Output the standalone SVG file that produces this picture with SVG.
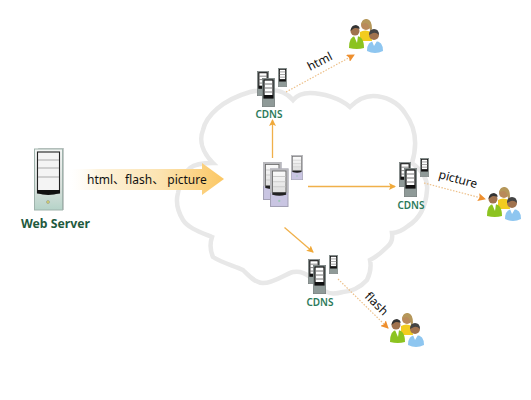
<svg xmlns="http://www.w3.org/2000/svg" width="531" height="400" viewBox="0 0 531 400">
<style>
text{font-family:"Noto Sans","Noto Sans CJK SC",sans-serif}
.lbl{font-size:12px;fill:#111}
.cd{font-size:10px;fill:#2c7a5a;text-anchor:middle;font-weight:600}
.solid{fill:none;stroke:#f0b04a;stroke-width:1.3;marker-end:url(#ah)}
.dot{fill:none;stroke:#edc08a;stroke-width:1.2;stroke-dasharray:1.5 1.5;marker-end:url(#ah2)}
</style>
<defs>
<marker id="ah" markerWidth="8" markerHeight="8" refX="6" refY="3.5" orient="auto" markerUnits="userSpaceOnUse"><path d="M0 0L7 3.5L0 7L1.5 3.5Z" fill="#f0a93a"/></marker>
<marker id="ah2" markerWidth="9" markerHeight="8" refX="7" refY="4" orient="auto" markerUnits="userSpaceOnUse"><path d="M0 0L8 4L0 8L1.5 4Z" fill="#ee8f2e"/></marker>
<linearGradient id="ag" x1="0" x2="1" y1="0" y2="0"><stop offset="0" stop-color="#fff" stop-opacity="0"/><stop offset=".2" stop-color="#fdf3dd"/><stop offset=".6" stop-color="#fce3b0"/><stop offset="1" stop-color="#fbc764"/></linearGradient>
<linearGradient id="sv" x1="0" x2="0" y1="0" y2="1"><stop offset="0" stop-color="#f4f6f5"/><stop offset=".65" stop-color="#d8e0dc"/><stop offset="1" stop-color="#b5d3c8"/></linearGradient>
<linearGradient id="scr" x1="0" x2="0" y1="0" y2="1"><stop offset="0" stop-color="#fbfbfb"/><stop offset="1" stop-color="#dcdcdc"/></linearGradient>
<symbol id="gs" viewBox="0 0 13 29" preserveAspectRatio="none" overflow="visible">
<rect x=".4" y=".4" width="12.2" height="28.2" fill="#8f9a98" stroke="#777f7e" stroke-width=".8"/>
<rect x="2" y="2" width="9" height="18" fill="#fff" stroke="#111" stroke-width="1.2"/>
<path d="M2 6H11M2 10H11M2 14H11" stroke="#777" stroke-width="1"/>
<path d="M2 17H11V20H2Z" fill="#111"/>
</symbol>
<symbol id="ps" viewBox="0 0 18 38" preserveAspectRatio="none" overflow="visible">
<rect x=".5" y=".5" width="17" height="37" fill="#c9c5e2" stroke="#a3a1b5"/>
<rect x="0" y="0" width="18" height="24" fill="#b9b9bd"/>
<rect x="2.500" y="2.500" width="13" height="23" fill="url(#scr)" stroke="#666" stroke-width=".8"/>
<path d="M3 8H15M3 13H15M3 18H15" stroke="#ccc"/>
<path d="M2.500 23.500H15.500V26Q9 28 2.500 26Z" fill="#222"/>
<circle cx="9" cy="32" r="1.100" fill="#9cc9b8"/>
</symbol>
<symbol id="pp" viewBox="0 0 34 35" width="34" height="35" overflow="visible">
<path d="M11 14Q16 11 22 14L23 23H11Z" fill="#f2cc1f"/>
<circle cx="17" cy="7" r="5" fill="#b98a5a"/><path d="M12 7Q13 0 18 1Q23 2 23 11L21 14Q21 7 17 5Q14 5 12 7Z" fill="#b5975a"/>
<path d="M0 30Q0 18 7 18Q15 18 15 30Q8 32 0 30Z" fill="#8cc320"/><path d="M5 18L8 25L9 18Z" fill="#fff"/>
<circle cx="6" cy="13" r="4.500" fill="#a0724e"/><path d="M1.500 13Q2 7 7 7Q11 8 10.500 11Q6 9 4 11Z" fill="#333"/>
<path d="M18 33Q18 23 26 23Q34 23 34 33Q26 37 18 33Z" fill="#8ec6f0"/><path d="M23 23L25 28L28 23Z" fill="#fff"/>
<circle cx="25" cy="17" r="5" fill="#a0724e"/><path d="M20 17Q20 11 25 11Q30 11 30 17Q27 14 24 15Z" fill="#444"/>
</symbol>
</defs>
<rect width="531" height="400" fill="#fff"/>
<g id="cloud"><path d="M213 163C202 152 199 140 203 130C206 116 222 100 250 92C258 90 264 90 270 90C280 90 288 94 293 100C298 94 304 93 310 93C322 93 340 98 350 107C358 99 366 96 373 96C385 96 398 102 405 113C414 125 419 140 412 163C424 172 428 182 427 190C426 205 421 218 408 226C403 230 397 233 392 233C393 240 391 244 387 247C382 252 376 257 370 260C372 270 369 276 367 280C360 288 350 292 343 292C335 294 330 294 327 292C317 290 314 281 310 277C304 272 298 271 293 272C285 274 274 283 263 283C255 283 248 275 243 270C235 266 222 263 213 257C210 250 210 243 212 237C200 232 188 228 183 220C177 210 176 200 178 193C180 180 185 172 190 168C195 164 205 163 213 163Z" fill="#fff" stroke="#e8e8e8" stroke-width="4.500"/></g>
<g id="connectors">
<path class="solid" d="M272.500 158V120"/>
<path class="solid" d="M308 186.500H395"/>
<path class="solid" d="M284.500 227.500L313 252"/>
<path class="dot" d="M286 92L354 55"/>
<path class="dot" d="M424 183L485 199"/>
<path class="dot" d="M338 279L388 328"/>
</g>
<g id="arrow"><path d="M66 169H202V163L224 179L202 195V190H66Z" fill="url(#ag)"/>
<text class="lbl" x="87" y="184">html、flash、 picture</text></g>
<g id="web-server">
<path d="M38 148H64V210H60Z" fill="#c4c9c8"/>
<rect x="34.500" y="149" width="28" height="61" fill="url(#sv)" stroke="#9fb3ac"/>
<rect x="37.500" y="152" width="22" height="41" fill="#f4f4f4" stroke="#222" stroke-width="1.100"/>
<path d="M38 160H59M38 168H59M38 177H59" stroke="#aaa"/>
<path d="M37 190H60V193Q48 197 37 193Z" fill="#111"/>
<circle cx="48" cy="202" r="1.500" fill="#d5d46a" stroke="#888" stroke-width=".5"/>
<text x="21" y="228" font-size="12" font-weight="700" fill="#1f5a3e" textLength="69" lengthAdjust="spacingAndGlyphs">Web Server</text>
</g>
<g id="origin">
<use href="#ps" x="291" y="155" width="12" height="25"/>
<use href="#ps" x="263" y="162" width="18.500" height="38"/>
<use href="#ps" x="270" y="168.500" width="18.500" height="38.500"/>
</g>
<g id="cdns-top">
<use href="#gs" x="257" y="71" width="12" height="25"/><use href="#gs" x="262" y="78" width="13" height="29"/>
<use href="#gs" x="278" y="68" width="9" height="19"/>
<text class="cd" x="269" y="118">CDNS</text>
</g>
<g id="cdns-right">
<use href="#gs" x="399" y="162" width="12" height="25"/><use href="#gs" x="404" y="168" width="13" height="29"/>
<use href="#gs" x="420" y="158" width="9" height="19"/>
<text class="cd" x="411" y="209">CDNS</text>
</g>
<g id="cdns-bottom">
<use href="#gs" x="308" y="259" width="12" height="25"/><use href="#gs" x="313" y="265" width="13" height="29"/>
<use href="#gs" x="329" y="255" width="9" height="19"/>
<text class="cd" x="320" y="306">CDNS</text>
</g>
<g id="users-top"><use href="#pp" x="349" y="18"/><text class="lbl" transform="translate(310 71) rotate(-27)">html</text></g>
<g id="users-right"><use href="#pp" x="487" y="186"/><text class="lbl" transform="translate(438 178) rotate(15)">picture</text></g>
<g id="users-bottom"><use href="#pp" x="390" y="312"/><text class="lbl" transform="translate(364 297) rotate(45)">flash</text></g>
</svg>
